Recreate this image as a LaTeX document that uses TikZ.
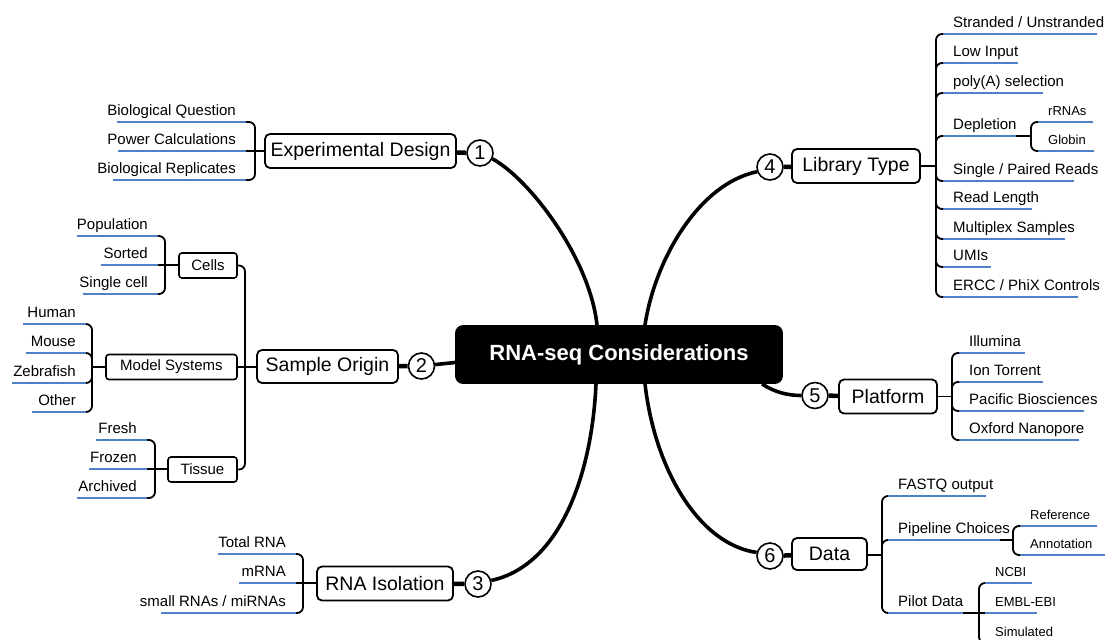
\documentclass[tikz,border=0pt]{standalone}
\usepackage{fontspec}
\setmainfont{Liberation Sans}
\usepackage{tikz}
\usetikzlibrary{arrows,shapes,positioning,calc}
\definecolor{ublue}{RGB}{79,129,199}
\tikzset{
  basic/.style    = {draw, line width=1.8pt, rectangle, inner sep=0pt, align=center},
  root/.style     = {basic, rounded corners=7pt, fill=black, text=white,
                     font=\fontsize{22}{26}\selectfont\bfseries,
                     minimum width=326pt, minimum height=57pt},
  topic/.style    = {basic, rounded corners=5pt, fill=white,
                     font=\fontsize{19.5}{23}\selectfont, minimum height=34pt},
  subtopic/.style = {basic, line width=1.6pt, rounded corners=3pt, fill=white,
                     font=\fontsize{15}{18}\selectfont, minimum height=25pt},
  num/.style      = {circle, draw, line width=1.6pt, fill=white, minimum size=26pt,
                     inner sep=0pt, font=\fontsize{20}{24}\selectfont},
  leaf/.style     = {inner sep=0pt, font=\fontsize{15}{18}\selectfont},
  sleaf/.style    = {inner sep=0pt, font=\fontsize{13}{16}\selectfont},
  uline/.style    = {ublue, line width=2pt},
  trunk/.style    = {line width=3.6pt},
  stub/.style     = {line width=4.5pt},
  twig/.style     = {line width=1.8pt, rounded corners=6pt}
}
% leaf on the left: name, x start, x end, y of line, text
\newcommand{\leafL}[5]{%
  \coordinate (#1-a) at (#2,#4);
  \coordinate (#1-b) at (#3,#4);
  \draw[uline] (#1-a) -- (#1-b);
  \node[leaf, anchor=base east] (#1) at (#3-10,#4-7) {#5};
}
% leaf on the right: [style], name, x start, x end, y of line, text
\newcommand{\leafR}[6][leaf]{%
  \coordinate (#2-a) at (#3,#5);
  \coordinate (#2-b) at (#4,#5);
  \draw[uline] (#2-a) -- (#2-b);
  \node[#1, anchor=base west] (#2) at (#3+10,#5-7) {#6};
}

\begin{document}
\begin{tikzpicture}[x=1pt, y=-1pt]
\useasboundingbox (0,0) rectangle (1109,640);
\clip (0,0) rectangle (1109,640);

% central topic
\node[root] (rna) at (619,354.5) {RNA-seq Considerations};

% main topics and their numbers
\node[topic, minimum width=191pt] (ed) at (360.5,151) {Experimental Design};
\node[topic, minimum width=141pt, minimum height=33pt] (so) at (327.5,366.5) {Sample Origin};
\node[topic, minimum width=136pt] (ri) at (385,583.5) {RNA Isolation};
\node[topic, minimum width=128pt] (lt) at (856,166) {Library Type};
\node[topic, minimum width=98pt] (pf) at (888,396.5) {Platform};
\node[topic, minimum width=75pt, minimum height=32pt] (da) at (829.5,554) {Data};

\node[num] (n1) at (480,153) {1};
\node[num] (n2) at (421.5,366) {2};
\node[num] (n3) at (478,584) {3};
\node[num] (n4) at (770,167) {4};
\node[num] (n5) at (815,395.5) {5};
\node[num] (n6) at (770,556) {6};

\draw[stub] (ed) -- (n1);
\draw[stub] (so) -- (n2);
\draw[stub] (ri) -- (n3);
\draw[stub] (lt) -- (n4);
\draw[stub] (pf) -- (n5);
\draw[stub] (da) -- (n6);

\draw[trunk] (n1.-25) .. controls +(38,21) and +(-7,-66) .. ([xshift=-22pt]rna.north);
\draw[trunk] ([xshift=26pt]rna.north) .. controls +(10,-66) and +(-58,12) .. (n4.200);
\draw[trunk] ([xshift=-23pt]rna.south) .. controls +(-4,90) and +(69,-15) .. (n3.15);
\draw[trunk] ([xshift=26pt]rna.south) .. controls +(10,87) and +(-57,-8) .. (n6.165);
\draw[trunk] ([xshift=143pt]rna.south) .. controls +(12,8) and +(-14,0) .. (n5.west);
\draw[trunk] (n2) -- ([yshift=-8pt]rna.west);

% Experimental Design
\leafL{bq}{117}{246}{122}{Biological Question}
\leafL{pw}{118}{246}{151}{Power Calculations}
\leafL{bre}{113}{246}{180}{Biological Replicates}
\coordinate (j1) at (255,151);
\draw[twig] (ed.west |- j1) -- (j1) -- (pw-b);
\foreach \l in {bq,bre} \draw[twig] (j1) |- (\l-b);

% Sample Origin
\node[subtopic, minimum width=58pt] (cells) at (208,265.5) {Cells};
\node[subtopic, minimum width=131pt] (models) at (171.5,367) {Model Systems};
\node[subtopic, minimum width=69pt] (tissue) at (202.5,469.5) {Tissue};
\coordinate (j2) at (245,367);
\draw[twig] (so.west |- j2) -- (j2) -- (models.east |- j2);
\draw[twig] (j2) |- (cells.east);
\draw[twig] (j2) |- (tissue.east);

\leafL{pop}{77}{158}{236}{Population}
\leafL{srt}{101}{158}{265}{Sorted}
\leafL{sgl}{83}{158}{294}{Single cell}
\coordinate (jc) at (165,265);
\draw[twig] (cells.west |- jc) -- (jc) -- (srt-b);
\foreach \l in {pop,sgl} \draw[twig] (jc) |- (\l-b);

\leafL{hum}{23}{86}{324}{Human}
\leafL{mou}{26}{86}{353}{Mouse}
\leafL{zeb}{12}{86}{383}{Zebrafish}
\leafL{oth}{32}{86}{412}{Other}
\coordinate (jm) at (92,367);
\draw[twig] (models.west |- jm) -- (jm);
\foreach \l in {hum,mou,zeb,oth} \draw[twig] (jm) |- (\l-b);

\leafL{fr}{96}{147}{440}{Fresh}
\leafL{fz}{89}{147}{469}{Frozen}
\leafL{ar}{77}{147}{498}{Archived}
\coordinate (jt) at (155,469);
\draw[twig] (tissue.west |- jt) -- (jt) -- (fz-b);
\foreach \l in {fr,ar} \draw[twig] (jt) |- (\l-b);

% RNA Isolation
\leafL{tr}{218}{296}{554}{Total RNA}
\leafL{mr}{239}{296}{583}{mRNA}
\leafL{sr}{161}{296}{613}{small RNAs / miRNAs}
\coordinate (jr) at (303,583);
\draw[twig] (ri.west |- jr) -- (jr) -- (mr-b);
\foreach \l in {tr,sr} \draw[twig] (jr) |- (\l-b);

% Library Type
\leafR{su}{943}{1097}{34}{Stranded / Unstranded}
\leafR{li}{943}{1018}{63}{Low Input}
\leafR{pa}{943}{1043}{93}{poly(A) selection}
\leafR{dp}{943}{1016}{136}{Depletion}
\leafR{spr}{943}{1074}{181}{Single / Paired Reads}
\leafR{rl}{943}{1032}{209}{Read Length}
\leafR{mx}{943}{1065}{239}{Multiplex Samples}
\leafR{um}{943}{991}{267}{UMIs}
\leafR{ec}{943}{1078}{297}{ERCC / PhiX Controls}
\coordinate (j4) at (936,166);
\draw[twig] (lt.east |- j4) -- (j4);
\foreach \l in {su,li,pa,dp,spr,rl,mx,um,ec} \draw[twig] (j4) |- (\l-a);

\leafR[sleaf]{rr}{1038}{1093}{122}{rRNAs}
\leafR[sleaf]{gl}{1038}{1094}{151}{Globin}
\coordinate (jd) at (1031,136);
\draw[twig] (dp-b) -- (jd);
\foreach \l in {rr,gl} \draw[twig] (jd) |- (\l-a);

% Platform
\leafR{il}{959}{1025}{353}{Illumina}
\leafR{it}{959}{1043}{382}{Ion Torrent}
\leafR{pb}{959}{1084}{411}{Pacific Biosciences}
\leafR{on}{959}{1079}{440}{Oxford Nanopore}
\coordinate (j5) at (952,396.5);
\draw[twig] (pf.east |- j5) -- (j5);
\foreach \l in {il,it,pb,on} \draw[twig] (j5) |- (\l-a);

% Data
\leafR{fq}{888}{986}{496}{FASTQ output}
\leafR{pch}{888}{1000}{540}{Pipeline Choices}
\leafR{pd}{888}{963}{613}{Pilot Data}
\coordinate (j6) at (882,555);
\draw[twig] (da.east |- j6) -- (j6);
\foreach \l in {fq,pch,pd} \draw[twig] (j6) |- (\l-a);

\leafR[sleaf]{ref}{1020}{1097}{526}{Reference}
\leafR[sleaf]{ann}{1020}{1105}{555}{Annotation}
\coordinate (jp) at (1013,540);
\draw[twig] (pch-b) -- (jp);
\foreach \l in {ref,ann} \draw[twig] (jp) |- (\l-a);

\leafR[sleaf]{ncbi}{985}{1032}{583}{NCBI}
\leafR[sleaf]{embl}{985}{1037}{613}{EMBL-EBI}
\leafR[sleaf]{sim}{985}{1035}{643}{Simulated}
\coordinate (jq) at (979,613);
\draw[twig] (pd-b) -- (jq) -- (embl-a);
\foreach \l in {ncbi,sim} \draw[twig] (jq) |- (\l-a);

\end{tikzpicture}
\end{document}
